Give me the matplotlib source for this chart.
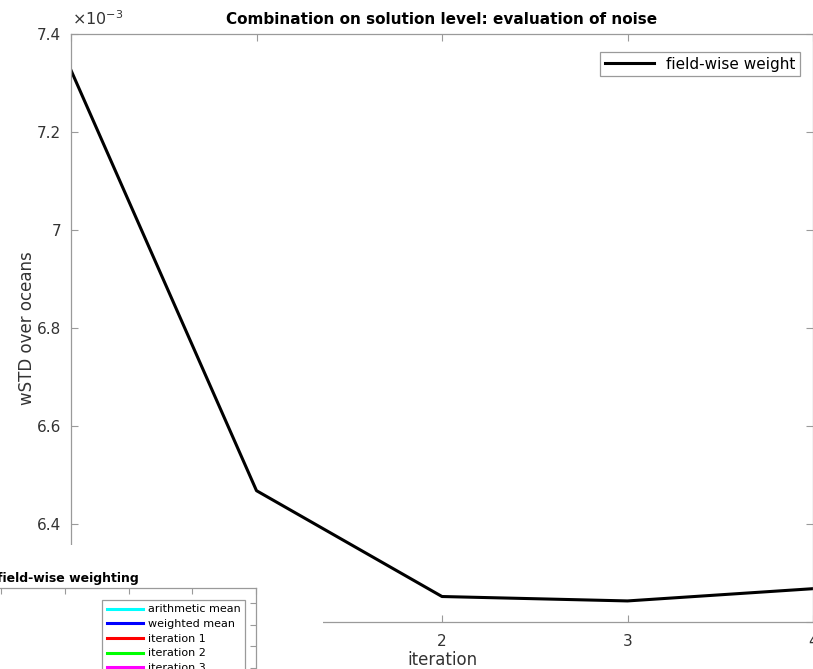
import numpy as np
import matplotlib.pyplot as plt
from matplotlib.lines import Line2D
from matplotlib.patches import Rectangle
from matplotlib.ticker import FuncFormatter

# main curve
iterations = [0, 1, 2, 3, 4]
wstd = [7.326e-3, 6.468e-3, 6.252e-3, 6.243e-3, 6.268e-3]
main_label = 'field-wise weight'

# legend of the overlapping (cut off) second figure
inset_labels = ['arithmetic mean', 'weighted mean', 'iteration 1', 'iteration 2', 'iteration 3']
inset_colors = ['#00ffff', '#0000ff', '#ff0000', '#00ff00', '#ff00ff']

W, H = 813, 669
grey = '#9a9a9a'
txt = '#333333'

fig = plt.figure(figsize=(W / 100, H / 100), dpi=100)

def style(ax):
    for s in ax.spines.values():
        s.set_color(grey)
        s.set_linewidth(0.9)
    ax.tick_params(direction='in', which='both', top=True, right=True,
                   color=grey, labelcolor=txt, length=5, width=0.8)

# main axes
ax = fig.add_axes([71 / W, 1 - 622 / H, (W - 71) / W, 588 / H])
ax.plot(iterations, wstd, color='k', lw=2.2, label=main_label)
ax.set_xlim(0, 4)
ax.set_ylim(6.2e-3, 7.4e-3)
ax.set_xticks([0, 1, 2, 3, 4])
ax.set_yticks(np.arange(6.2e-3, 7.41e-3, 0.2e-3))
ax.yaxis.set_major_formatter(FuncFormatter(lambda v, p: '%g' % round(v * 1e3, 3)))
style(ax)
ax.tick_params(labelsize=11)
ax.tick_params(axis='x', pad=9)
ax.tick_params(axis='y', pad=7)
ax.set_title('Combination on solution level: evaluation of noise',
             fontsize=11, fontweight='bold', pad=7)
ax.set_ylabel('wSTD over oceans', fontsize=12, color=txt, labelpad=1)
ax.set_xlabel('iteration', fontsize=12, color=txt, labelpad=1)
leg = ax.legend(loc='upper right', bbox_to_anchor=(0.9825, 0.969), borderaxespad=0,
                fancybox=False, edgecolor=grey, framealpha=1, fontsize=11,
                handlelength=3.2, borderpad=0.3)
leg.get_frame().set_linewidth(0.9)
fig.text(72 / W, 1 - 25 / H, r'$\times10^{-3}$', fontsize=11.5, color=txt)

# white area of the second window on top
fig.add_artist(Rectangle((0, 0), 323 / W, 1 - 545 / H, transform=fig.transFigure,
                         facecolor='white', edgecolor='none', zorder=1))

# second figure, mostly outside the picture
ax2 = fig.add_axes([-120 / W, 1 - 803 / H, 376 / W, 215 / H], zorder=2)
ax2.set_xlim(-1.9, 4)
ax2.set_ylim(-2.3, 7.7)
ax2.set_xticks(range(-1, 5))
ax2.set_yticks(range(-2, 8))
ax2.set_xticklabels([])
ax2.set_yticklabels([])
style(ax2)
ax2.tick_params(length=4)
ax2.set_title('field-wise weighting', fontsize=9, fontweight='bold', pad=4)
handles = [Line2D([], [], color=c, lw=2.2) for c in inset_colors]
leg2 = ax2.legend(handles, inset_labels, loc='upper right', bbox_to_anchor=(0.971, 0.944),
                  borderaxespad=0, fancybox=False, edgecolor=grey, framealpha=1,
                  fontsize=8, handlelength=3.3, handletextpad=0.4, labelspacing=0.42,
                  borderpad=0.4)
leg2.get_frame().set_linewidth(0.9)

fig.savefig('out.png', dpi=100)
